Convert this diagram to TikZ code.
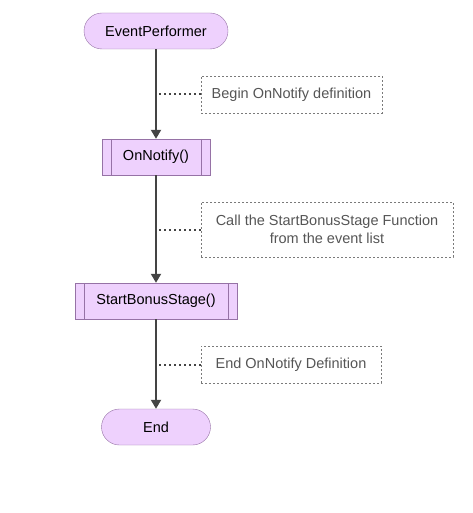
\documentclass[tikz,border=0pt]{standalone}
\usepackage{fontspec}
\setmainfont{Liberation Sans}
\usepackage{xcolor}
\usetikzlibrary{arrows.meta,positioning,calc}
\definecolor{procfill}{HTML}{EED1FD}
\definecolor{procline}{HTML}{9672A6}
\definecolor{flowline}{HTML}{444444}
\definecolor{notetext}{HTML}{555555}
\definecolor{noteline}{HTML}{7A7A7A}

\begin{document}
\begin{tikzpicture}[
    x=1pt, y=-1pt,
    every node/.style={font=\fontsize{14.5}{17.5}\selectfont},
    terminal/.style={rectangle, draw=procline, fill=procfill, rounded corners=18pt, minimum height=36pt, inner sep=0pt},
    process/.style={rectangle, draw=procline, fill=procfill, minimum height=36pt, inner sep=0pt,
        path picture={
            \draw[procline] ([xshift=9pt]path picture bounding box.north west) -- ([xshift=9pt]path picture bounding box.south west);
            \draw[procline] ([xshift=-9pt]path picture bounding box.north east) -- ([xshift=-9pt]path picture bounding box.south east);
        }},
    note/.style={rectangle, draw=noteline, dash pattern=on 2pt off 2pt, line width=0.6pt, text=notetext, align=center, inner sep=0pt},
    flow/.style={-{Triangle[length=9pt, width=10pt]}, draw=flowline, fill=flowline, line width=2pt},
    link/.style={draw=flowline, line width=2pt, dash pattern=on 2pt off 3pt},
]
    \useasboundingbox (0,0) rectangle (472,513);

    % main flow
    \node[terminal, minimum width=144pt] (start) at (156,31) {EventPerformer};
    \node[process, minimum width=108pt] (notify) at (156,157) {OnNotify()};
    \node[process, minimum width=162pt] (bonus) at (156,301) {StartBonusStage()};
    \node[terminal, minimum width=109pt] (stop) at (156,427) {End};
    \draw[flow] (start) -- (notify);
    \draw[flow] (notify) -- (bonus);
    \draw[flow] (bonus) -- (stop);

    % comments
    \node[note, minimum width=181pt, minimum height=37pt] (c1) at (291.5,94.5) {Begin OnNotify definition};
    \node[note, minimum width=252pt, minimum height=55pt] (c2) at (327,229.5) {Call the StartBonusStage Function\\from the event list};
    \node[note, minimum width=180pt, minimum height=37pt] (c3) at (291,364.5) {End OnNotify Definition};
    \draw[link] (c1.west) -- (c1.west -| start);
    \draw[link] (c2.west) -- (c2.west -| start);
    \draw[link] (c3.west) -- (c3.west -| start);
\end{tikzpicture}
\end{document}
